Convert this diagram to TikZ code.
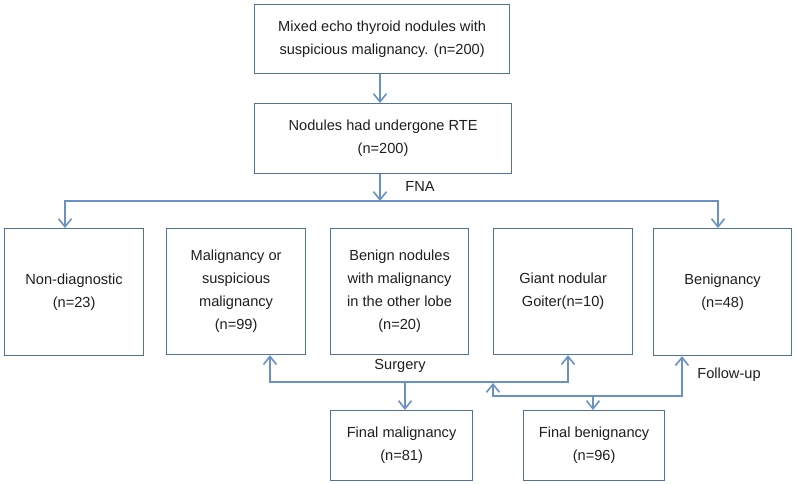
\documentclass[tikz,border=0pt]{standalone}
\usepackage{fontspec}
\setmainfont{Liberation Sans}
\usetikzlibrary{arrows.meta}
\definecolor{boxc}{RGB}{80,114,158}
\definecolor{linec}{RGB}{106,145,196}
\tikzset{
  box/.style={draw=boxc, line width=1.2pt, rectangle, anchor=north west, align=center,
    inner sep=0pt, font=\fontsize{14.6pt}{23pt}\selectfont, text=black!88},
  conn/.style={draw=linec, line width=1.6pt, line join=miter,
    arrows={-Straight Barb[length=8pt,width=13pt,line width=1.6pt]}},
  biconn/.style={draw=linec, line width=1.6pt, line join=miter,
    arrows={Straight Barb[length=8pt,width=13pt,line width=1.6pt]-Straight Barb[length=8pt,width=13pt,line width=1.6pt]}},
  lbl/.style={font=\fontsize{14.6pt}{17pt}\selectfont, text=black!88, inner sep=0pt}
}
\begin{document}
\begin{tikzpicture}[x=1pt,y=-1pt]
\path[fill=white] (0,0) rectangle (796,484);
\useasboundingbox (0,0) rectangle (796,484);

\node[box, minimum width=255pt, minimum height=69pt] (top) at (254,4)
  {Mixed echo thyroid nodules with\\suspicious malignancy. (n=200)};
\node[box, minimum width=257pt, minimum height=70pt] (rte) at (254,103)
  {Nodules had undergone RTE\\(n=200)};

\node[box, minimum width=139pt, minimum height=127pt] (nd) at (4,228)
  {Non-diagnostic\\(n=23)};
\node[box, minimum width=139pt, minimum height=126pt] (mal) at (166,228)
  {Malignancy or\\suspicious\\malignancy\\(n=99)};
\node[box, minimum width=138pt, minimum height=126pt] (ben) at (330,228)
  {Benign nodules\\with malignancy\\in the other lobe\\(n=20)};
\node[box, minimum width=139pt, minimum height=126pt] (gia) at (493,228)
  {Giant nodular\\Goiter(n=10)};
\node[box, minimum width=138pt, minimum height=127pt] (bgn) at (653,228)
  {Benignancy\\(n=48)};

\node[box, minimum width=142pt, minimum height=70pt] (fm) at (330,410)
  {Final malignancy\\(n=81)};
\node[box, minimum width=141pt, minimum height=70pt] (fb) at (523,410)
  {Final benignancy\\(n=96)};

% top to RTE
\coordinate (c1) at (380,0);
\draw[conn] (top.south -| c1) -- (rte.north -| c1);

% FNA fork
\coordinate (fork) at (380,201);
\coordinate (fl) at (65,201);
\coordinate (fr) at (718,201);
\draw[conn] (rte.south -| fork) -- (fork);
\draw[biconn] (nd.north -| fl) -- (fl) -- (fr) -- (bgn.north -| fr);
\node[lbl] (fna) at (420,186) {FNA};

% Surgery
\coordinate (s1) at (270,382);
\coordinate (s2) at (568,382);
\coordinate (s3) at (405,382);
\draw[biconn] (mal.south -| s1) -- (s1) -- (s2) -- (gia.south -| s2);
\draw[conn] (s3) -- (fm.north -| s3);
\node[lbl] (surg) at (400,366) {Surgery};

% Follow-up
\coordinate (f0) at (493,383);
\coordinate (f1) at (493,396);
\coordinate (f2) at (682,396);
\coordinate (f3) at (593,396);
\draw[biconn] (f0) -- (f1) -- (f2) -- (bgn.south -| f2);
\draw[conn] (f3) -- (fb.north -| f3);
\node[lbl] (fu) at (729,375) {Follow-up};
\end{tikzpicture}
\end{document}
